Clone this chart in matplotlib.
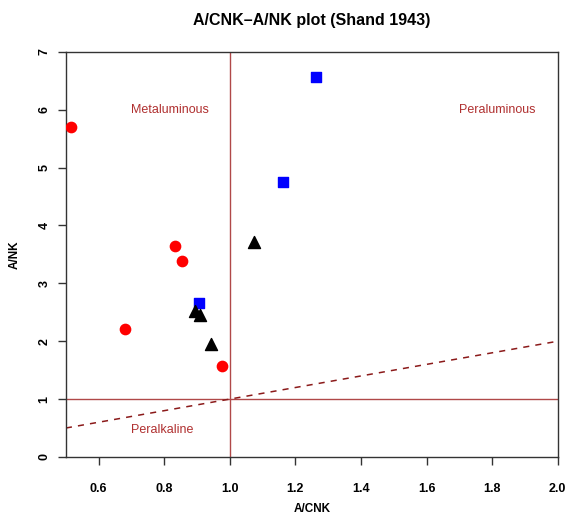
import matplotlib
matplotlib.use("Agg")
import matplotlib.pyplot as plt
import numpy as np

plt.rcParams['font.family'] = ['Liberation Sans', 'DejaVu Sans']

# A/CNK, A/NK per group
red_acnk = [0.515, 0.832, 0.854, 0.680, 0.976]
red_ank = [5.70, 3.64, 3.39, 2.21, 1.57]
blue_acnk = [1.262, 1.162, 0.905]
blue_ank = [6.56, 4.75, 2.66]
black_acnk = [1.073, 0.893, 0.909, 0.944]
black_ank = [3.72, 2.53, 2.45, 1.96]

x_ticks = [0.6, 0.8, 1.0, 1.2, 1.4, 1.6, 1.8, 2.0]
y_ticks = [0, 1, 2, 3, 4, 5, 6, 7]

fig = plt.figure(figsize=(5.68, 5.14), dpi=100)
ax = fig.add_axes([0.116, 0.111, 0.866, 0.788])

line_col = '#B04848'
text_col = '#B03030'

ax.axvline(1.0, color=line_col, lw=1.0, zorder=1)
ax.axhline(1.0, color=line_col, lw=1.0, zorder=1)
xx = np.array([0.5, 2.0])
ax.plot(xx, xx, color='#8B1A1A', lw=1.1, ls=(0, (4, 4)), zorder=1)

ax.scatter(red_acnk, red_ank, s=55, marker='o', color='red', zorder=3)
ax.scatter(blue_acnk, blue_ank, s=55, marker='s', color='blue', zorder=3)
ax.scatter(black_acnk, black_ank, s=75, marker='^', color='black', zorder=3)

ax.text(0.817, 6.0, 'Metaluminous', color=text_col, fontsize=9, ha='center', va='center')
ax.text(1.814, 6.0, 'Peraluminous', color=text_col, fontsize=9, ha='center', va='center')
ax.text(0.793, 0.47, 'Peralkaline', color=text_col, fontsize=9, ha='center', va='center')

ax.set_xlim(0.5, 2.0)
ax.set_ylim(0, 7)
ax.set_xticks(x_ticks)
ax.set_xticklabels([f'{v:.1f}' for v in x_ticks], fontweight='bold', fontsize=9)
ax.set_yticks(y_ticks)
ax.set_yticklabels([str(v) for v in y_ticks], fontweight='bold', fontsize=9, rotation=90, va='center')
ax.tick_params(direction='out', length=6, width=1, color='#333333')
ax.tick_params(axis='x', pad=13)
ax.tick_params(axis='y', pad=5)
for s in ax.spines.values():
    s.set_color('#333333')
    s.set_linewidth(1.0)

# axis titles placed like R's mtext lines
fig.text(312 / 568, 1 - 509 / 514, 'A/CNK', fontweight='bold', fontsize=8.5,
         ha='center', va='center')
fig.text(15 / 568, 1 - 255 / 514, 'A/NK', fontweight='bold', fontsize=8.5,
         ha='center', va='center', rotation=90)
fig.text(312 / 568, 1 - 20 / 514, 'A/CNK\u2013A/NK plot (Shand 1943)', fontweight='bold',
         fontsize=11.5, ha='center', va='center')

fig.savefig('out.png', dpi=100)
